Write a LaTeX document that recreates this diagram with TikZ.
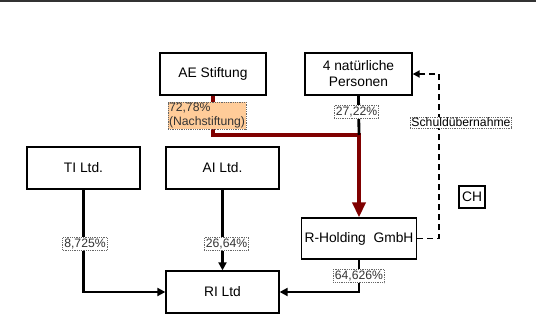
\documentclass[tikz,border=0pt]{standalone}
\usepackage{fontspec}
\setmainfont{Liberation Sans}
\usetikzlibrary{arrows.meta, positioning}
\definecolor{stiftred}{RGB}{128, 0, 0}
\definecolor{stiftfill}{RGB}{255, 204, 153}
\tikzset{
	entity/.style={draw=black, line width=1.3pt, fill=white, shape=rectangle, minimum width=110pt, minimum height=42pt, align=center, font=\fontsize{13.8}{16}\selectfont},
	share/.style={draw=black!60, densely dotted, line width=0.8pt, fill=white, inner sep=1.5pt, text=black!80, font=\fontsize{12.2}{14}\selectfont},
	country/.style={draw=black, line width=1.3pt, fill=white, minimum width=26pt, minimum height=22pt, inner sep=1pt, font=\fontsize{13.8}{15}\selectfont},
	own/.style={-{Triangle[length=8pt, width=8pt]}, line width=2.8pt, color=black},
	stift/.style={-{Triangle[length=15pt, width=13pt]}, line width=4pt, color=stiftred},
	duty/.style={-{Triangle[length=7pt, width=7pt]}, line width=1.8pt, dash pattern=on 6pt off 4pt, color=black}
}
\begin{document}
\begin{tikzpicture}[x=1pt, y=-1pt]
		\useasboundingbox (0,0) rectangle (536,324);
		\draw[black!80, line width=1.5pt] (0,1) -- (536,1);

		% Nodes
		\node (AE) [entity, minimum width=106pt] at (213,74) {AE Stiftung};
		\node (P) [entity, minimum width=107pt] at (358.5,74) {4 natürliche\\Personen};
		\node (TI) [entity, minimum width=113pt] at (83.5,168) {TI Ltd.};
		\node (AI) [entity, minimum width=113pt] at (222.5,168) {AI Ltd.};
		\node (RI) [entity, minimum width=113pt] at (222.5,292) {RI Ltd};
		\node (RH) [entity, minimum width=114pt, minimum height=41pt] at (359,238.5) {R-Holding\ \ GmbH};
		\node (CH) [country] at (472,197) {CH};

		\coordinate (merge) at (359,135);
		\coordinate (turn) at (439,156);

		% Arrows (shares)
		\draw [stift] (AE.south) |- (merge) -- (RH.north);
		\draw [own, -] (P.south) -- (merge);
		\draw [own] (TI.south) |- (RI.west);
		\draw [own] (AI.south) -- (RI.north);
		\draw [own] (RH.south) |- (RI.east);
		\draw [duty] (RH.east) -| (turn) |- (P.east);

		% Annotations
		\node[share, fill=stiftfill, align=left, inner sep=1pt] at (207,115.5) {72,78\%\\(Nachstiftung)};
		\node[share] at (356.5,112) {27,22\%};
		\node[share] at (85,244) {8,725\%};
		\node[share] at (226.5,244) {26,64\%};
		\node[share] at (359,276) {64,626\%};
		\node[share, text=black, inner sep=1pt] at (461,122.5) {Schuldübernahme};

\end{tikzpicture}
\end{document}
